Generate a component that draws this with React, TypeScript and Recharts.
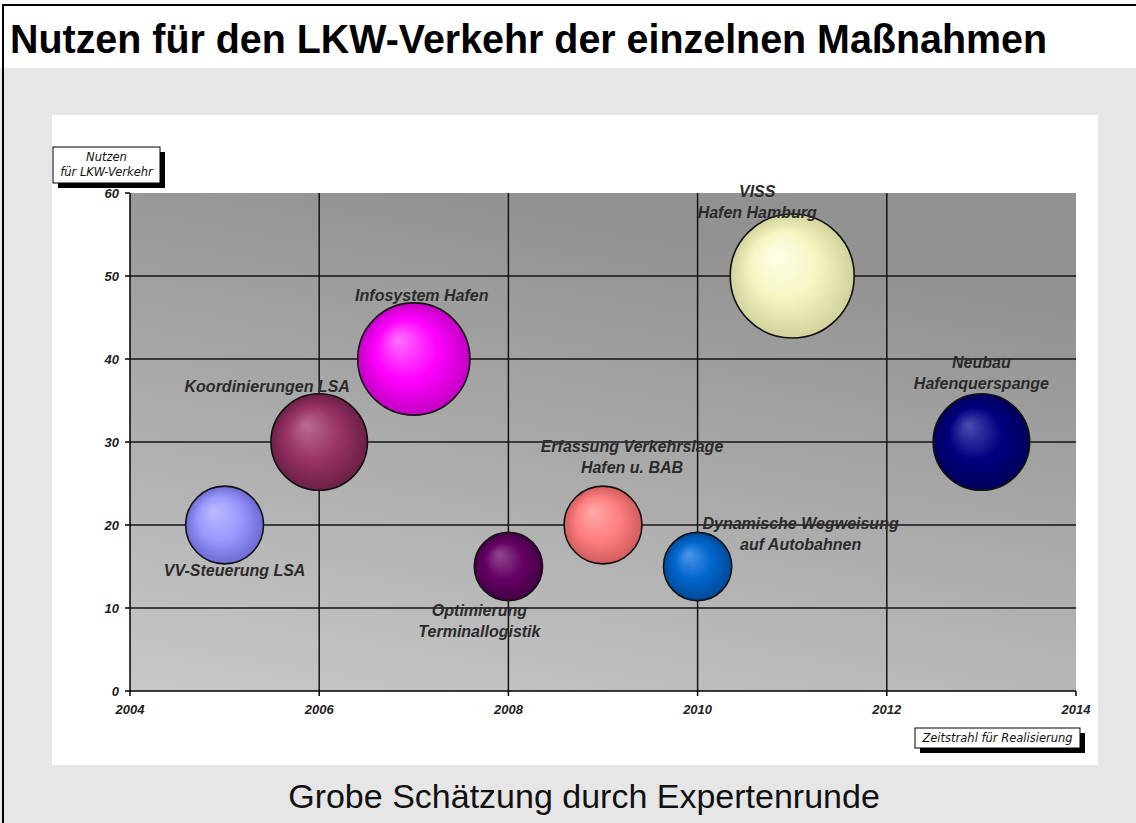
import {
  CartesianGrid,
  ReferenceLine,
  Scatter,
  ScatterChart,
  XAxis,
  YAxis,
  ZAxis
} from "recharts";

const projects = [
  "VV-Steuerung LSA",
  "Koordinierungen LSA",
  "Infosystem Hafen",
  "Optimierung Terminallogistik",
  "Erfassung Verkehrslage Hafen u. BAB",
  "Dynamische Wegweisung auf Autobahnen",
  "VISS Hafen Hamburg",
  "Neubau Hafenquerspange"
];
const labelLines = [
  ["VV-Steuerung LSA"],
  ["Koordinierungen LSA"],
  ["Infosystem Hafen"],
  ["Optimierung", "Terminallogistik"],
  ["Erfassung Verkehrslage", "Hafen u. BAB"],
  ["Dynamische Wegweisung", "auf Autobahnen"],
  ["VISS", "Hafen Hamburg"],
  ["Neubau", "Hafenquerspange"]
];
const years = [2005, 2006, 2007, 2008, 2009, 2010, 2011, 2013];
const nutzen = [20, 30, 40, 15, 20, 15, 50, 30];
const aufwand = [13, 20, 27, 10, 13, 10, 33, 20];

const xTicks = [2004, 2006, 2008, 2010, 2012, 2014];
const yTicks = [0, 10, 20, 30, 40, 50, 60];
const xGrid = [2006, 2008, 2010, 2012];
const yGrid = [10, 20, 30, 40, 50];

// light / base / dark for the 3d look
const bubbleColors = [
  ["#bcbcff", "#9999ff", "#6b6bd2"],
  ["#b96c92", "#993366", "#6c1f47"],
  ["#ff70ff", "#ff00ff", "#c400c4"],
  ["#8e4c8e", "#660066", "#440044"],
  ["#ffaaaa", "#ff8080", "#d25c5c"],
  ["#4c96ea", "#0066cc", "#004a98"],
  ["#ffffea", "#f5f5c2", "#d2d29c"],
  ["#4c4cb2", "#000080", "#00005a"]
];

const labelOffsets = [
  { dx: 10, dy: 51 },
  { dx: -52, dy: -50 },
  { dx: 8, dy: -58 },
  { dx: -29, dy: 49 },
  { dx: 29, dy: -73 },
  { dx: 103, dy: -38 },
  { dx: -35, dy: -79 },
  { dx: 0, dy: -74 }
];

const data = projects.map((name, i) => ({
  name,
  lines: labelLines[i],
  x: years[i],
  y: nutzen[i],
  z: aufwand[i],
  idx: i
}));

const sans = "'Liberation Sans', Arial, sans-serif";
const boxFont = "'DejaVu Sans', Verdana, sans-serif";

function Bubble(props: any) {
  const { cx, cy, payload } = props;
  const r = props.width ? props.width / 2 : Math.sqrt(props.size / Math.PI);
  const [light, base, dark] = bubbleColors[payload.idx];
  const id = `bubble-grad-${payload.idx}`;
  return (
    <g>
      <defs>
        <radialGradient id={id} cx="50%" cy="50%" r="50%" fx="36%" fy="32%">
          <stop offset="0%" stopColor={light} />
          <stop offset="55%" stopColor={base} />
          <stop offset="100%" stopColor={dark} />
        </radialGradient>
      </defs>
      <circle cx={cx} cy={cy} r={r} fill={`url(#${id})`} stroke="#111" strokeWidth={1.6} />
    </g>
  );
}

function BubbleLabel(props: any) {
  const { cx, cy, payload } = props;
  const off = labelOffsets[payload.idx];
  const x = cx + off.dx;
  return (
    <text
      x={x}
      y={cy + off.dy}
      textAnchor="middle"
      fontSize={16}
      fontWeight="bold"
      fontStyle="italic"
      fontFamily={sans}
      fill="#2b2b2b"
    >
      {payload.lines.map((line: string, j: number) => (
        <tspan key={j} x={x} dy={j === 0 ? 0 : 21}>
          {line}
        </tspan>
      ))}
    </text>
  );
}

const tickStyle = { fontSize: 13, fontWeight: "bold", fontStyle: "italic", fill: "#222", fontFamily: sans };

export default function App() {
  return (
    <div
      style={{
        position: "relative",
        width: 1136,
        height: 823,
        background: "#e6e6e6",
        overflow: "hidden",
        fontFamily: sans
      }}
    >
      <style>{"body{margin:0}"}</style>
      <div style={{ position: "absolute", left: 0, top: 0, width: 1136, height: 68, background: "#fff" }} />
      <div style={{ position: "absolute", left: 2, top: 4, right: 0, height: 2, background: "#000" }} />
      <div style={{ position: "absolute", left: 2, top: 4, width: 2, bottom: 0, background: "#000" }} />
      <div style={{ position: "absolute", left: 52, top: 115, width: 1046, height: 650, background: "#fff" }} />

      <div style={{ position: "absolute", left: 0, top: 0 }}>
        <ScatterChart width={1136} height={823} margin={{ top: 193, right: 60, bottom: 102, left: 70 }}>
          <defs>
            <linearGradient id="plotBg" x1="0" y1="1" x2="0.35" y2="0">
              <stop offset="0%" stopColor="#c8c8c8" />
              <stop offset="100%" stopColor="#929292" />
            </linearGradient>
          </defs>
          <CartesianGrid horizontal={false} vertical={false} fill="url(#plotBg)" fillOpacity={1} stroke="none" />
          <XAxis
            type="number"
            dataKey="x"
            domain={[2004, 2014]}
            ticks={xTicks}
            height={30}
            tickSize={5}
            tickMargin={9}
            tick={tickStyle}
            tickLine={{ stroke: "#000", strokeWidth: 1.5 }}
            axisLine={{ stroke: "#000", strokeWidth: 1.5 }}
            allowDecimals={false}
          />
          <YAxis
            type="number"
            dataKey="y"
            domain={[0, 60]}
            ticks={yTicks}
            width={60}
            tickSize={5}
            tickMargin={6}
            tick={tickStyle}
            tickLine={{ stroke: "#000", strokeWidth: 1.5 }}
            axisLine={{ stroke: "#000", strokeWidth: 1.5 }}
          />
          <ZAxis type="number" dataKey="z" domain={[0, 33]} range={[0, 12076]} />
          {xGrid.map((v) => (
            <ReferenceLine key={`x${v}`} x={v} stroke="#141414" strokeWidth={1.5} />
          ))}
          {yGrid.map((v) => (
            <ReferenceLine key={`y${v}`} y={v} stroke="#141414" strokeWidth={1.5} />
          ))}
          <Scatter data={data} shape={<Bubble />} isAnimationActive={false} />
          <Scatter data={data} shape={<BubbleLabel />} isAnimationActive={false} />
        </ScatterChart>
      </div>

      <svg
        width={1136}
        height={823}
        style={{ position: "absolute", left: 0, top: 0, pointerEvents: "none" }}
      >
        <text
          x={10}
          y={53}
          fontSize={41}
          fontWeight="bold"
          fontFamily={sans}
          fill="#000"
          textLength={1037}
          lengthAdjust="spacingAndGlyphs"
        >
          Nutzen für den LKW-Verkehr der einzelnen Maßnahmen
        </text>

        <rect x={58} y={152} width={107} height={36} fill="#000" />
        <rect x={53} y={147} width={107} height={36} fill="#fff" stroke="#000" strokeWidth={1} />
        <text x={106.5} y={161} textAnchor="middle" fontSize={11.5} fontStyle="italic" fontFamily={boxFont} fill="#111">
          Nutzen
        </text>
        <text x={106.5} y={176} textAnchor="middle" fontSize={11.5} fontStyle="italic" fontFamily={boxFont} fill="#111">
          für LKW-Verkehr
        </text>

        <rect x={920} y={733} width={165} height={20} fill="#000" />
        <rect x={915} y={728} width={165} height={20} fill="#fff" stroke="#000" strokeWidth={1} />
        <text x={997.5} y={742} textAnchor="middle" fontSize={11.5} fontStyle="italic" fontFamily={boxFont} fill="#111">
          Zeitstrahl für Realisierung
        </text>

        <text x={584} y={808} textAnchor="middle" fontSize={34} fontFamily={sans} fill="#111">
          Grobe Schätzung durch Expertenrunde
        </text>
      </svg>
    </div>
  );
}
